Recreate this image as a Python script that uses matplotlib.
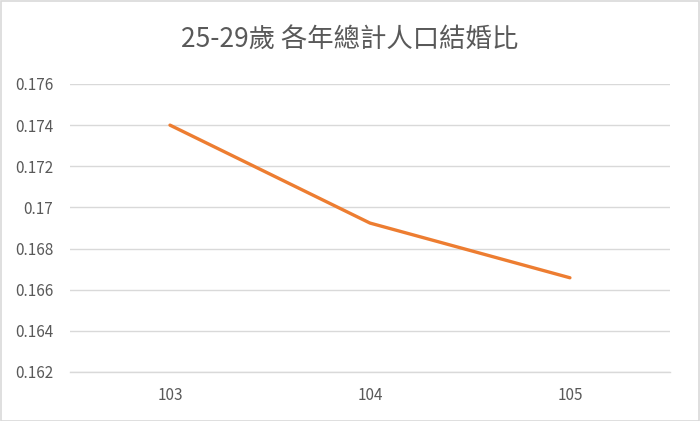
import matplotlib
matplotlib.use("Agg")
import matplotlib.pyplot as plt
from matplotlib.patches import Rectangle

plt.rcParams['font.family'] = ['Noto Sans CJK TC', 'DejaVu Sans']

years = ["103", "104", "105"]
ratios = [0.1740, 0.16924, 0.16658]
yticks = [0.162, 0.164, 0.166, 0.168, 0.17, 0.172, 0.174, 0.176]
ytick_labels = ["0.162", "0.164", "0.166", "0.168", "0.17", "0.172", "0.174", "0.176"]
title = "25-29歲 各年總計人口結婚比"

fig = plt.figure(figsize=(7, 4.21), dpi=100)
ax = fig.add_axes([0.1, 0.1164, 0.857, 0.6841])

x = list(range(len(years)))
ax.plot(x, ratios, color="#ED7D31", linewidth=2.4, solid_capstyle="round", solid_joinstyle="round", zorder=3)

ax.set_xlim(-0.5, len(years) - 0.5)
ax.set_ylim(0.162, 0.176)
ax.set_yticks(yticks)
ax.set_yticklabels(ytick_labels)
ax.set_xticks(x)
ax.set_xticklabels(years)

ax.grid(axis="y", color="#D9D9D9", linewidth=1.0, zorder=0)
for s in ["top", "right", "left"]:
    ax.spines[s].set_visible(False)
ax.spines["bottom"].set_color("#D9D9D9")
ax.spines["bottom"].set_linewidth(1.0)
ax.tick_params(axis="both", length=0, labelsize=11, labelcolor="#595959")
ax.tick_params(axis="y", pad=12)
ax.tick_params(axis="x", pad=11)

fig.text(0.5, 0.905, title, ha="center", va="center", fontsize=19, color="#595959")

fig.patches.append(Rectangle((0.001, 0.001), 0.997, 0.997, transform=fig.transFigure,
                             fill=False, edgecolor="#D9D9D9", linewidth=1.2))

fig.savefig("out.png", dpi=100, facecolor="white")
